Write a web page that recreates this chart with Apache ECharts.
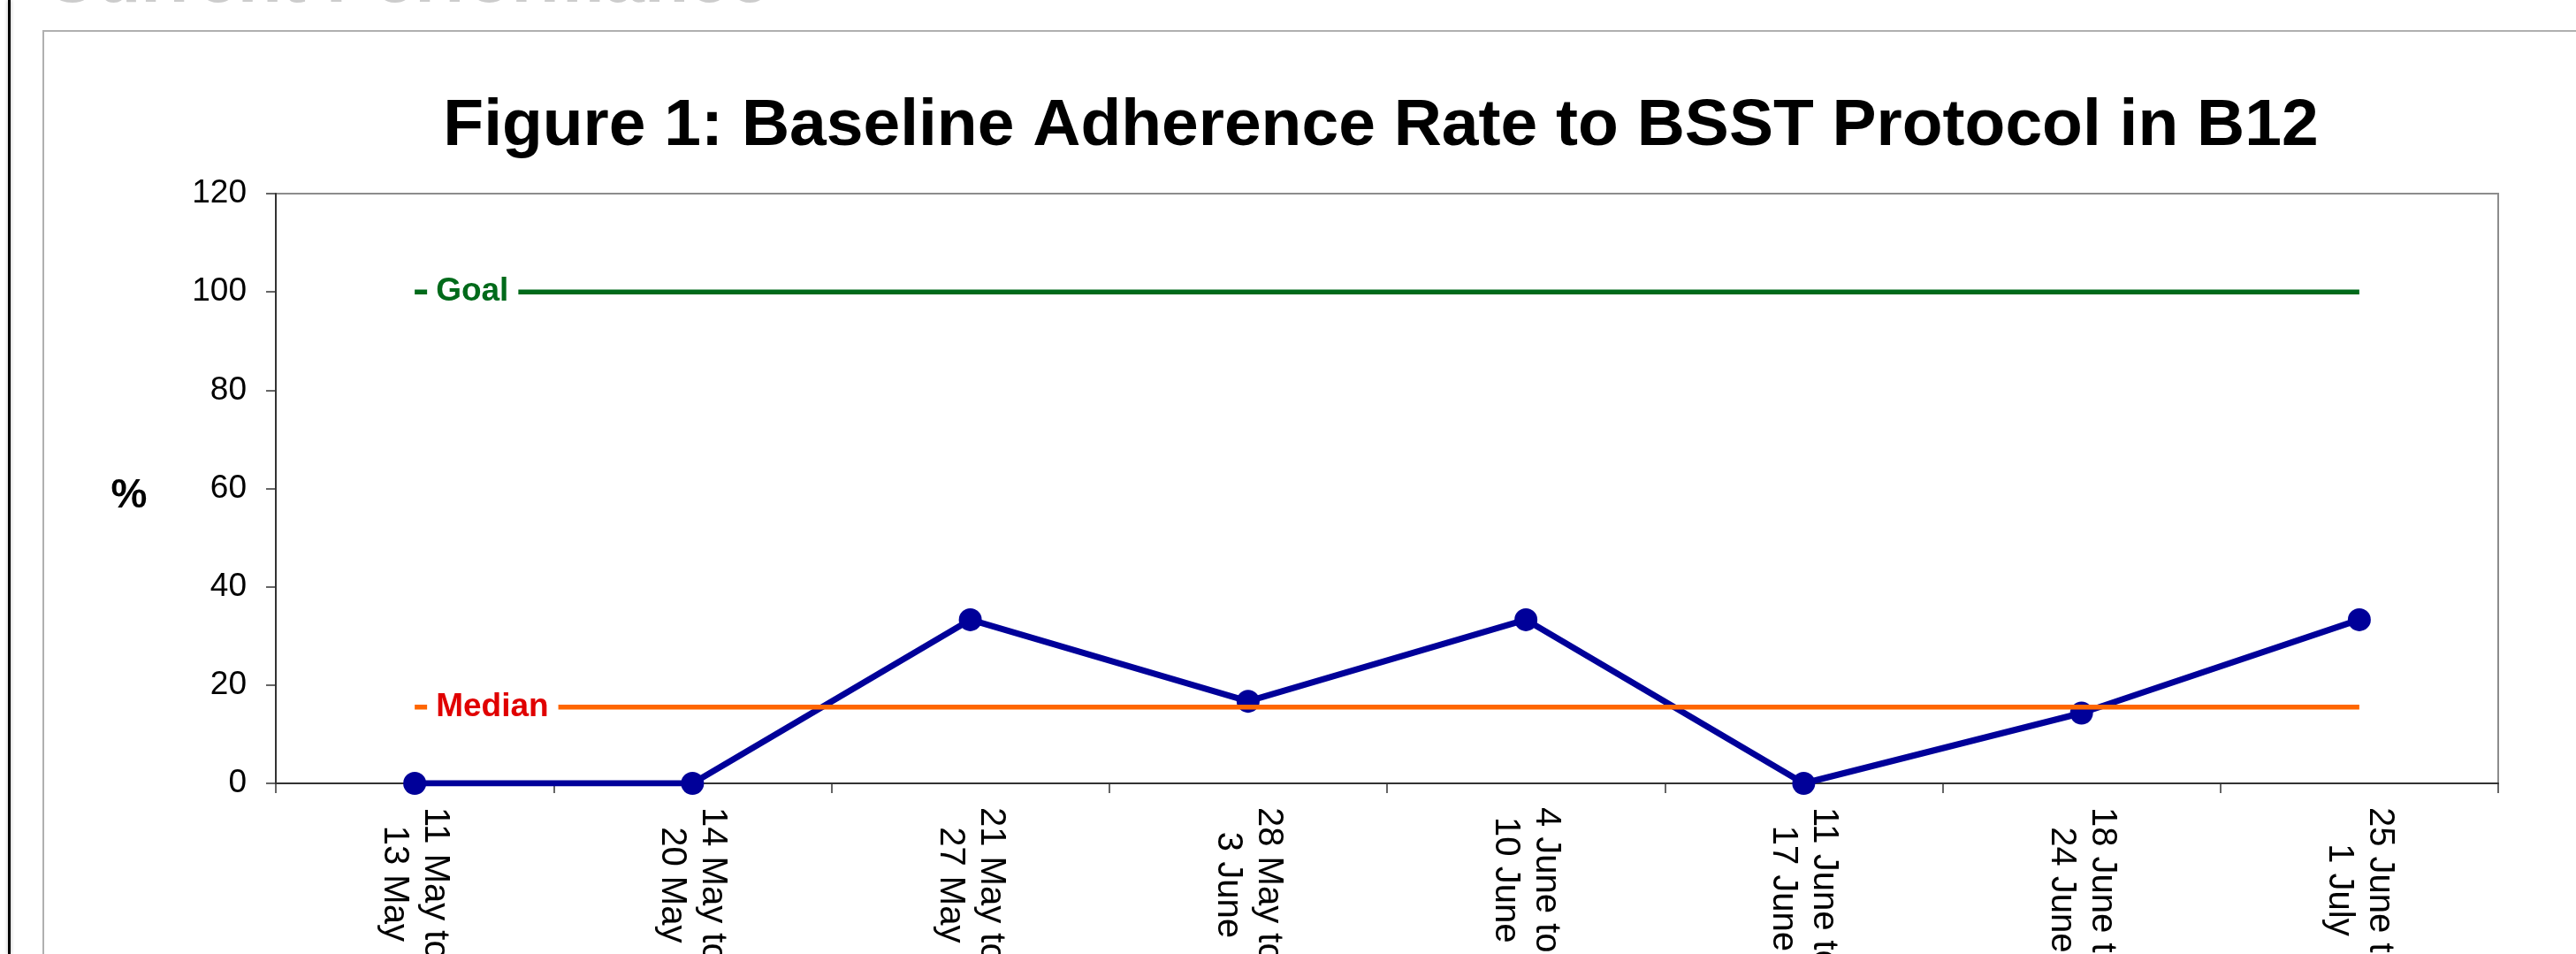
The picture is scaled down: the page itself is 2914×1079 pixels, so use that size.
<!DOCTYPE html>
<html>
<head>
<meta charset="utf-8">
<script src="https://cdn.jsdelivr.net/npm/echarts@6/dist/echarts.min.js"></script>
<style>
  html, body { margin: 0; padding: 0; background: #ffffff; }
  #chart { width: 2914px; height: 1079px; }
</style>
</head>
<body>
<div id="chart"></div>
<script>
// ---- Data ----
const categories = [
  '11 May to\n13 May',
  '14 May to\n20 May',
  '21 May to\n27 May',
  '28 May to\n3 June',
  '4 June to\n10 June',
  '11 June to\n17 June',
  '18 June to\n24 June',
  '25 June to\n1 July'
];
const adherence = [0, 0, 33.3, 16.7, 33.3, 0, 14.3, 33.3];
const goal = [100, 100, 100, 100, 100, 100, 100, 100];
const median = [15.5, 15.5, 15.5, 15.5, 15.5, 15.5, 15.5, 15.5];
const yTicks = { min: 0, max: 120, interval: 20 };
const yAxisName = '%';
const titleText = 'Figure 1: Baseline Adherence Rate to BSST Protocol in B12';
const headingText = 'Current Performance';

const FONT = '"Liberation Sans", Arial, Helvetica, sans-serif';

function refLineData(values, labelText, labelColor) {
  return values.map((v, i) => {
    if (i !== 0) return v;
    return {
      value: v,
      label: {
        show: true,
        position: 'right',
        distance: 14,
        formatter: labelText,
        color: labelColor,
        fontFamily: FONT,
        fontSize: 37,
        fontWeight: 'bold',
        backgroundColor: '#ffffff',
        padding: [2, 11, 2, 10]
      }
    };
  });
}

const chart = echarts.init(document.getElementById('chart'), null, { renderer: 'canvas' });

const option = {
  backgroundColor: '#ffffff',
  animation: false,
  title: {
    text: titleText,
    left: 1562,
    top: 106,
    textAlign: 'center',
    padding: 0,
    textStyle: {
      fontFamily: FONT,
      fontSize: 75,
      fontWeight: 'bold',
      color: '#000000'
    }
  },
  graphic: [
    {
      type: 'text',
      left: 50,
      top: -62,
      silent: true,
      style: {
        text: headingText,
        fontFamily: FONT,
        fontSize: 82,
        fontWeight: 'bold',
        fill: '#cccccc',
        shadowBlur: 4,
        shadowColor: 'rgba(0,0,0,0.25)'
      }
    },
    {
      type: 'rect',
      silent: true,
      shape: { x: 49, y: 35, width: 3000, height: 1200 },
      style: { fill: 'none', stroke: '#b0b0b0', lineWidth: 2 }
    },
    {
      type: 'line',
      silent: true,
      shape: { x1: 10.5, y1: 0, x2: 10.5, y2: 1079 },
      style: { stroke: '#000000', lineWidth: 3, shadowBlur: 4, shadowColor: 'rgba(0,0,0,0.3)' }
    },
    {
      type: 'text',
      silent: true,
      x: 146,
      y: 561,
      style: {
        text: yAxisName,
        fontFamily: FONT,
        fontSize: 46,
        fontWeight: 'bold',
        fill: '#000000',
        align: 'center',
        verticalAlign: 'middle'
      }
    }
  ],
  grid: {
    left: 312,
    right: 88,
    top: 219,
    bottom: 193,
    outerBoundsMode: 'none',
    containLabel: false,
    show: true,
    borderColor: '#8c8c8c',
    borderWidth: 2,
    backgroundColor: '#ffffff'
  },
  xAxis: {
    type: 'category',
    data: categories,
    boundaryGap: true,
    axisLine: { show: true, lineStyle: { color: '#333333', width: 2 } },
    axisTick: { show: true, length: 11, lineStyle: { color: '#333333', width: 1.5 } },
    splitLine: { show: false },
    axisLabel: {
      interval: 0,
      rotate: -90,
      margin: 27,
      fontFamily: FONT,
      fontSize: 40,
      lineHeight: 46,
      color: '#000000',
      formatter: function (v) {
        return v.split('\n').map(s => '{c|' + s + '}').join('\n');
      },
      rich: {
        c: {
          align: 'center',
          fontFamily: FONT,
          fontSize: 40,
          lineHeight: 46,
          color: '#000000'
        }
      }
    }
  },
  yAxis: {
    type: 'value',
    min: yTicks.min,
    max: yTicks.max,
    interval: yTicks.interval,
    axisLine: { show: true, lineStyle: { color: '#333333', width: 2 } },
    axisTick: { show: true, length: 11, lineStyle: { color: '#333333', width: 1.5 } },
    splitLine: { show: false },
    axisLabel: {
      margin: 33,
      fontFamily: FONT,
      fontSize: 37,
      color: '#000000'
    }
  },
  series: [
    {
      name: 'Adherence',
      type: 'line',
      data: adherence,
      z: 2,
      symbol: 'circle',
      symbolSize: 26,
      showAllSymbol: true,
      lineStyle: { color: '#000099', width: 7 },
      itemStyle: { color: '#000099', borderWidth: 0 }
    },
    {
      name: 'Goal',
      type: 'line',
      data: refLineData(goal, 'Goal', '#006a1a'),
      z: 3,
      symbol: 'circle',
      symbolSize: 0,
      showSymbol: true,
      showAllSymbol: true,
      lineStyle: { color: '#006a1a', width: 5.5 },
      itemStyle: { color: '#006a1a' }
    },
    {
      name: 'Median',
      type: 'line',
      data: refLineData(median, 'Median', '#e00000'),
      z: 4,
      symbol: 'circle',
      symbolSize: 0,
      showSymbol: true,
      showAllSymbol: true,
      lineStyle: { color: '#ff6600', width: 5.5 },
      itemStyle: { color: '#ff6600' }
    }
  ]
};

chart.setOption(option);
</script>
</body>
</html>
